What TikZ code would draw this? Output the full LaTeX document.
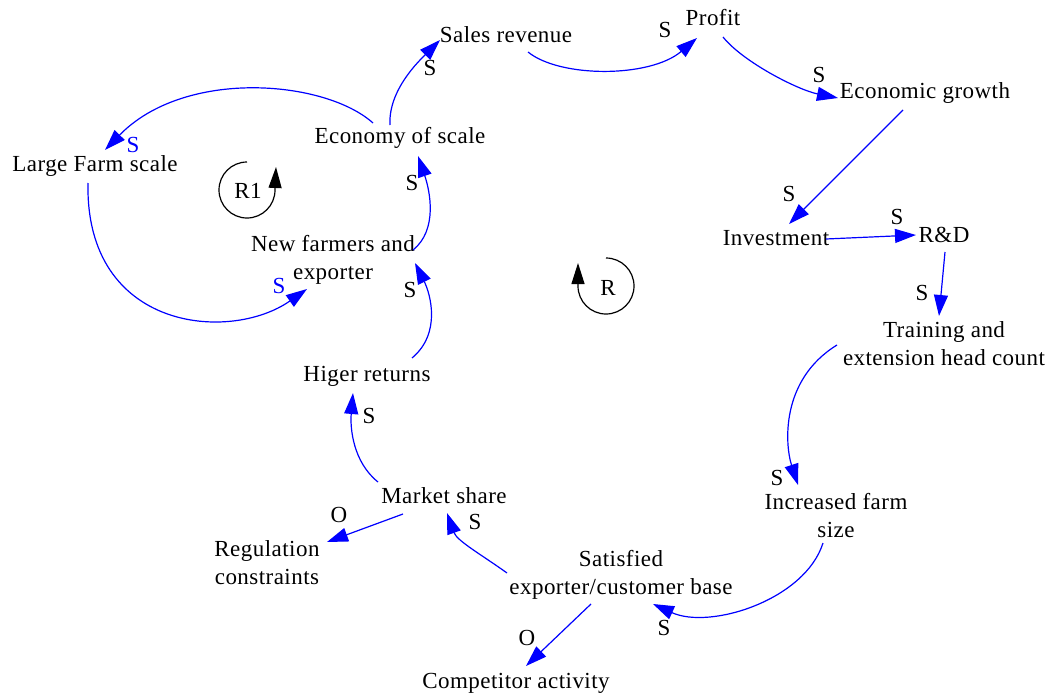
\documentclass[tikz,border=0pt]{standalone}
\usepackage{fontspec}
\setmainfont{Liberation Serif}[LetterSpace=2]
\usetikzlibrary{arrows.meta}
\begin{document}
\begin{tikzpicture}[x=1pt,y=-1pt,
  lbl/.style={inner sep=0pt, align=center, font=\fontsize{23}{28}\selectfont},
  sgn/.style={inner sep=0pt, font=\fontsize{23}{28}\selectfont},
  link/.style={draw=blue, line width=1.2pt, -{Triangle[length=21pt,width=14pt]}},
  loopline/.style={draw=black, line width=1.2pt, -{Triangle[length=21pt,width=13pt]}}]
\useasboundingbox (0,0) rectangle (1047,696);

% variables
\node[lbl] (sales)  at (506,35)  {Sales revenue};
\node[lbl] (profit) at (713,18)  {Profit};
\node[lbl] (econ)   at (925,93)  {Economic growth};
\node[lbl] (large)  at (95,166)  {Large Farm scale};
\node[lbl] (eos)    at (400,138) {Economy of scale};
\node[lbl] (newf)   at (333,260) {New farmers and\\exporter};
\node[lbl] (inv)    at (776,238) {Investment};
\node[lbl] (rd)     at (944,235) {R\&D};
\node[lbl] (train)  at (944,344) {Training and\\extension head count};
\node[lbl] (higer)  at (367,376) {Higer returns};
\node[lbl] (market) at (444,496) {Market share};
\node[lbl] (incf)   at (836,516) {Increased farm\\size};
\node[lbl] (reg)    at (267,563) {Regulation\\constraints};
\node[lbl] (sat)    at (621,575) {Satisfied\\exporter/customer base};
\node[lbl] (comp)   at (516,683) {Competitor activity};

% causal links
\draw[link] ([shift={(-10,-13)}]eos.center) .. controls +(-2,-35) and +(-20,20) .. ([shift={(-66,5)}]sales.center);
\draw[link] ([shift={(22,17)}]sales.center) .. controls +(32,26) and +(-47,40) .. ([shift={(-16,20)}]profit.center);
\draw[link] ([shift={(10,19)}]profit.center) .. controls +(20,25) and +(-40,-8) .. ([shift={(-87,5)}]econ.center);
\draw[link] ([shift={(-22,17)}]econ.center) -- ([shift={(13,-14)}]inv.center);
\draw[link] ([shift={(50,1)}]inv.center) -- ([shift={(-28,0)}]rd.center);
\draw[link] ([shift={(1,17)}]rd.center) -- ([shift={(-5,-28)}]train.center);
\draw[link] ([shift={(-107,1)}]train.center) .. controls +(-57,35) and +(-13,-40) .. ([shift={(-38,-31)}]incf.center);
\draw[link] ([shift={(-13,27)}]incf.center) .. controls +(-18,57) and +(57,26) .. ([shift={(32,29)}]sat.center);
\draw[link] ([shift={(-114,-2)}]sat.center) .. controls +(-25,-18) and +(10,28) .. ([shift={(3,17)}]market.center);
\draw[link] ([shift={(-30,29)}]sat.center) -- ([shift={(10,-17)}]comp.center);
\draw[link] ([shift={(-41,18)}]market.center) -- ([shift={(60,-21)}]reg.center);
\draw[link] ([shift={(-66,-14)}]market.center) .. controls +(-25,-20) and +(-3,35) .. ([shift={(-14,17)}]higer.center);
\draw[link] ([shift={(45,-18)}]higer.center) .. controls +(30,-25) and +(15,30) .. ([shift={(82,3)}]newf.center);
\draw[link] ([shift={(80,-10)}]newf.center) .. controls +(25,-20) and +(12,35) .. ([shift={(18,18)}]eos.center);
\draw[link] ([shift={(-27,-15)}]eos.center) .. controls +(-48,-43) and +(80,-82) .. ([shift={(10,-16)}]large.center);
\draw[link] ([shift={(-7,17)}]large.center) .. controls +(-3,148) and +(-77,54) .. ([shift={(-26,29)}]newf.center);

% polarity signs
\node[sgn] (s1)  at (430,68)  {S};
\node[sgn] (s2)  at (665,30)  {S};
\node[sgn] (s3)  at (819,75)  {S};
\node[sgn] (s4)  at (789,194) {S};
\node[sgn] (s5)  at (897,217) {S};
\node[sgn] (s6)  at (922,293) {S};
\node[sgn] (s7)  at (777,478) {S};
\node[sgn] (s8)  at (664,628) {S};
\node[sgn] (s9)  at (475,522) {S};
\node[sgn] (o10) at (527,638) {O};
\node[sgn] (o11) at (339,515) {O};
\node[sgn] (s12) at (369,416) {S};
\node[sgn] (s13) at (410,290) {S};
\node[sgn] (s14) at (412,183) {S};
\node[sgn,text=blue] (s15) at (133,145) {S};
\node[sgn,text=blue] (s16) at (279,286) {S};

% loop markers
\coordinate (r1c) at (247,190);
\node[sgn] (r1) at (248,191) {R1};
\draw[loopline] (r1c) ++(0,-28) arc[start angle=-90, end angle=-360, radius=28] -- ++(1,-23);
\coordinate (rc) at (606,286);
\node[sgn] (r) at (608,288) {R};
\draw[loopline] (rc) ++(0,-28) arc[start angle=-90, end angle=180, radius=28] -- ++(0,-23);
\end{tikzpicture}
\end{document}
